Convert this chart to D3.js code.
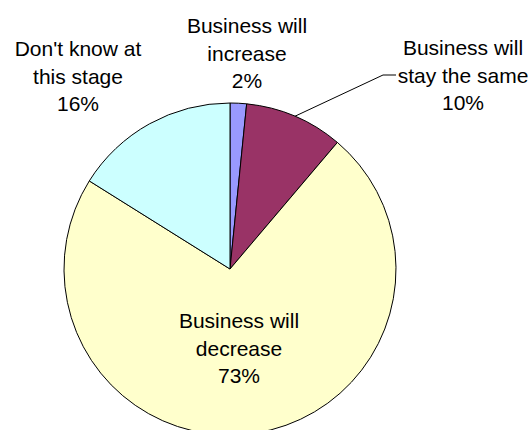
<!DOCTYPE html>
<html>
<head>
<meta charset="utf-8">
<script src="https://cdn.jsdelivr.net/npm/d3@7"></script>
<style>
html,body{margin:0;padding:0;background:#fff;}
svg{display:block;}
text{font-family:"Liberation Sans",Arial,sans-serif;font-size:21px;fill:#000;}
</style>
</head>
<body>
<script>
const categories = ["Business will increase", "Business will stay the same", "Business will decrease", "Don't know at this stage"];
// slice shares (percent)
const values = [1.6, 9.6, 72.7, 16.1];
// printed percentage labels
const percentLabels = ["2%", "10%", "73%", "16%"];
const colors = ["#9999FF", "#993366", "#FFFFCC", "#CCFFFF"];
const labelLines = [
  ["Business will", "increase"],
  ["Business will", "stay the same"],
  ["Business will", "decrease"],
  ["Don't know at", "this stage"]
];

const W = 531, H = 430;
const cx = 230, cy = 269, R = 166;
const svg = d3.select("body").append("svg").attr("width", W).attr("height", H);

const pie = d3.pie().sort(null).value(d => d)(values);
const arc = d3.arc().innerRadius(0).outerRadius(R);

const g = svg.append("g").attr("transform", `translate(${cx},${cy})`);
g.selectAll("path").data(pie).enter().append("path")
  .attr("d", arc)
  .attr("fill", (d, i) => colors[i])
  .attr("stroke", "#000")
  .attr("stroke-width", 1);

// label positions (layout, absolute coords: center x, first baseline y)
const labelPos = [[247, 33], [463, 55], [239, 328], [78, 56]];
const lh = 27.5;
labelPos.forEach((p, i) => {
  const t = svg.append("text").attr("text-anchor", "middle");
  labelLines[i].concat([percentLabels[i]]).forEach((s, j) => {
    t.append("tspan").attr("x", p[0]).attr("y", p[1] + j * lh).text(s);
  });
});

// leader line for "stay the same"
const sl = pie[1];
const mid = (sl.startAngle + sl.endAngle) / 2;
const sx = cx + Math.sin(mid) * R, sy = cy - Math.cos(mid) * R;
svg.append("path")
  .attr("d", d3.line()([[sx, sy], [383, 75], [396, 75]]))
  .attr("fill", "none").attr("stroke", "#000").attr("stroke-width", 1);
</script>
</body>
</html>
